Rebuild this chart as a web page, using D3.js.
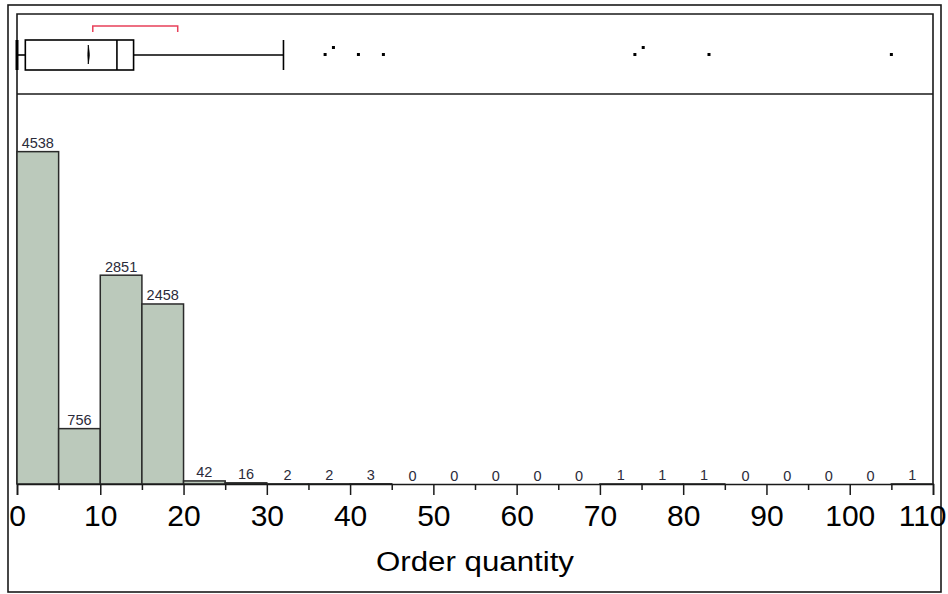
<!DOCTYPE html>
<html>
<head>
<meta charset="utf-8">
<script src="https://cdn.jsdelivr.net/npm/d3@7"></script>
<style>
  html, body { margin: 0; padding: 0; background: #fff; }
  svg { display: block; }
  text { font-family: "Liberation Sans", Arial, sans-serif; }
</style>
</head>
<body>
<svg id="chart" width="948" height="594"></svg>
<script>
// Histogram bins (width 5) and their counts
const binStarts = [0, 5, 10, 15, 20, 25, 30, 35, 40, 45, 50, 55, 60, 65, 70, 75, 80, 85, 90, 95, 100, 105];
const binWidth = 5;
const counts = [4538, 756, 2851, 2458, 42, 16, 2, 2, 3, 0, 0, 0, 0, 0, 1, 1, 1, 0, 0, 0, 0, 1];

// Box plot summary
const whiskerLow = 0;
const quartile1 = 1;
const median = 12;
const quartile3 = 14;
const whiskerHigh = 32;
const meanValue = 8.56;
const meanCI = [8.45, 8.72];
const shortestHalf = [9.1, 19.3];
const outliers = [37, 38, 41, 44, 74.2, 75.2, 83.1, 105];

// Axis ticks
const majorTicks = [0, 10, 20, 30, 40, 50, 60, 70, 80, 90, 100, 110];
const minorTicks = [5, 15, 25, 35, 45, 55, 65, 75, 85, 95, 105];
const axisTitle = "Order quantity";

const svg = d3.select("#chart");
const ink = "#1a1a1a";

const x = d3.scaleLinear().domain([0, 110]).range([17, 933]);
const y = d3.scaleLinear().domain([0, 5325]).range([484, 94]);

// Outer frame
svg.append("rect")
  .attr("x", 8).attr("y", 5).attr("width", 933).attr("height", 587)
  .attr("fill", "none").attr("stroke", ink).attr("stroke-width", 1.6);

// Inner plot frame (box panel on top, histogram below)
svg.append("path")
  .attr("d", `M${x(0)},${y(0)} V14 H${x(110)} V${y(0)}`)
  .attr("fill", "none").attr("stroke", ink).attr("stroke-width", 1.6);
svg.append("line")
  .attr("x1", x(0)).attr("x2", x(110)).attr("y1", 94).attr("y2", 94)
  .attr("stroke", ink).attr("stroke-width", 1.6);

// Histogram bars
const bins = binStarts.map((s, i) => ({ lo: s, hi: s + binWidth, n: counts[i] }));
svg.append("g").selectAll("rect")
  .data(bins.filter(d => d.n > 0))
  .join("rect")
  .attr("x", d => x(d.lo))
  .attr("width", d => x(d.hi) - x(d.lo))
  .attr("y", d => y(d.n))
  .attr("height", d => y(0) - y(d.n))
  .attr("fill", "#bbc9bb")
  .attr("stroke", "#2a2a2a")
  .attr("stroke-width", 1.5);

// Count labels above each bin
svg.append("g").selectAll("text")
  .data(bins)
  .join("text")
  .attr("x", d => x(d.lo + binWidth / 2))
  .attr("y", d => y(d.n) - 3.5)
  .attr("text-anchor", "middle")
  .attr("font-size", 14.5)
  .attr("fill", "#2b2b3a")
  .text(d => d.n);

// X axis with major and minor ticks
const axisMajor = svg.append("g")
  .attr("transform", `translate(0,${y(0)})`)
  .call(d3.axisBottom(x).tickValues(majorTicks).tickSize(11).tickPadding(10).tickFormat(d3.format("d")));
axisMajor.select(".domain").attr("stroke", ink).attr("stroke-width", 1.6);
axisMajor.selectAll(".tick line").attr("stroke", ink).attr("stroke-width", 1.5);
axisMajor.selectAll(".tick text")
  .attr("font-size", 30)
  .attr("font-family", "'Liberation Sans', Arial, sans-serif")
  .attr("fill", "#000");
// The last label is pulled inward so it stays on the page
axisMajor.selectAll(".tick text")
  .filter(d => d === majorTicks[majorTicks.length - 1])
  .attr("text-anchor", "end")
  .attr("x", 13);

const axisMinor = svg.append("g")
  .attr("transform", `translate(0,${y(0)})`)
  .call(d3.axisBottom(x).tickValues(minorTicks).tickSize(6).tickFormat(""));
axisMinor.select(".domain").remove();
axisMinor.selectAll(".tick line").attr("stroke", ink).attr("stroke-width", 1.5);

// Axis title
svg.append("text")
  .attr("x", x(55))
  .attr("y", 571)
  .attr("text-anchor", "middle")
  .attr("font-size", 27)
  .attr("textLength", 198)
  .attr("lengthAdjust", "spacingAndGlyphs")
  .attr("fill", "#000")
  .text(axisTitle);

// Box plot
const box = svg.append("g").attr("stroke", "#000").attr("stroke-width", 1.6).attr("fill", "none");
const boxTop = 40, boxBottom = 70, boxMid = 55;
box.append("line").attr("x1", x(whiskerLow)).attr("x2", x(quartile1)).attr("y1", boxMid).attr("y2", boxMid);
box.append("line").attr("x1", x(quartile3)).attr("x2", x(whiskerHigh)).attr("y1", boxMid).attr("y2", boxMid);
box.append("line").attr("x1", x(whiskerLow)).attr("x2", x(whiskerLow)).attr("y1", boxTop).attr("y2", boxBottom).attr("stroke-width", 3);
box.append("line").attr("x1", x(whiskerHigh)).attr("x2", x(whiskerHigh)).attr("y1", boxTop).attr("y2", boxBottom);
box.append("rect")
  .attr("x", x(quartile1)).attr("y", boxTop)
  .attr("width", x(quartile3) - x(quartile1)).attr("height", boxBottom - boxTop)
  .attr("fill", "#fff");
box.append("line").attr("x1", x(median)).attr("x2", x(median)).attr("y1", boxTop).attr("y2", boxBottom);

// Mean confidence diamond
svg.append("path")
  .attr("d", `M${x(meanValue)},45 Q${x(meanCI[1]) + 0.8},55 ${x(meanValue)},64 Q${x(meanCI[0])},55 ${x(meanValue)},45 Z`)
  .attr("fill", "#000").attr("stroke", "#000").attr("stroke-width", 0.8);

// Shortest half bracket
svg.append("path")
  .attr("d", `M${x(shortestHalf[0])},32 V26 H${x(shortestHalf[1])} V32`)
  .attr("fill", "none").attr("stroke", "#e8405a").attr("stroke-width", 1.5);

// Outlier points; near-coincident points are lifted so both stay visible
const placed = outliers.map((v, i) => ({
  v,
  lift: i > 0 && v - outliers[i - 1] < 1.5 ? 7 : 0
}));
svg.append("g").selectAll("rect")
  .data(placed)
  .join("rect")
  .attr("x", d => x(d.v) - 1.5)
  .attr("y", d => 54.5 - d.lift - 1.5)
  .attr("width", 3).attr("height", 3)
  .attr("fill", "#000");
</script>
</body>
</html>
